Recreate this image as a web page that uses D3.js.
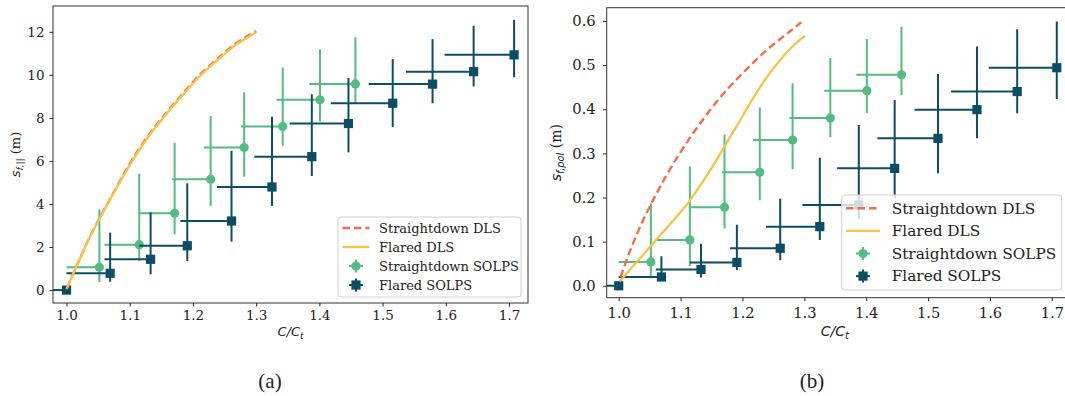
<!DOCTYPE html>
<meta charset="utf-8">
<script src="https://d3js.org/d3.v7.min.js"></script>
<style>
  body { margin: 0; background: #fff; }
  text { font-family: "DejaVu Serif", serif; fill: #222; }
  .math { font-family: "DejaVu Sans", sans-serif; font-style: italic; }
</style>
<div id="my_dataviz"></div>
<script>
// ---- data ----
// C/Ct of the SOLPS runs
var xFlared = [1.000, 1.069, 1.133, 1.191, 1.261, 1.325, 1.388, 1.446, 1.516, 1.579, 1.644, 1.708];
var xFlaredLow = [0.960, 1.000, 1.060, 1.115, 1.180, 1.238, 1.297, 1.353, 1.418, 1.478, 1.537, 1.598];
var xStraight = [1.052, 1.115, 1.171, 1.228, 1.281, 1.342, 1.401, 1.457];
var xStraightLow = [1.000, 1.060, 1.115, 1.167, 1.217, 1.276, 1.332, 1.384];

// (a) s_f,|| (m)
var parFlared = [0, 0.78, 1.43, 2.06, 3.21, 4.79, 6.20, 7.74, 8.68, 9.57, 10.15, 10.93];
var parFlaredLow = [0, 0.39, 0.73, 1.35, 2.25, 3.91, 5.30, 6.40, 7.57, 8.68, 9.46, 9.89];
var parFlaredHigh = [0, 2.67, 3.61, 4.96, 6.47, 8.06, 9.10, 9.85, 10.73, 11.66, 12.28, 12.56];
var parStraight = [1.06, 2.11, 3.57, 5.15, 6.62, 7.60, 8.84, 9.58];
var parStraightLow = [0.38, 1.35, 2.59, 3.91, 5.27, 6.71, 7.83, 8.65];
var parStraightHigh = [3.75, 5.40, 6.85, 8.09, 9.19, 10.34, 11.19, 11.75];

var dlsParFlaredX = [1.000, 1.010, 1.020, 1.035, 1.052, 1.070, 1.090, 1.106, 1.130, 1.159, 1.185, 1.211, 1.240, 1.264, 1.285, 1.301];
var dlsParFlaredY = [0.05, 0.72, 1.38, 2.35, 3.30, 4.28, 5.30, 6.10, 7.15, 8.22, 9.10, 9.95, 10.72, 11.32, 11.72, 12.00];
var dlsParStraightX = [1.001, 1.011, 1.021, 1.036, 1.053, 1.071, 1.090, 1.106, 1.130, 1.159, 1.185, 1.211, 1.240, 1.264, 1.285, 1.300];
var dlsParStraightY = [0.10, 0.80, 1.45, 2.43, 3.38, 4.35, 5.36, 6.16, 7.21, 8.28, 9.16, 10.01, 10.78, 11.38, 11.78, 12.04];

// (b) s_f,pol (m)
var polFlared = [0, 0.020, 0.037, 0.053, 0.085, 0.134, 0.183, 0.266, 0.334, 0.399, 0.440, 0.494];
var polFlaredLow = [0, 0.013, 0.019, 0.036, 0.058, 0.104, 0.151, 0.198, 0.255, 0.334, 0.391, 0.423];
var polFlaredHigh = [0, 0.067, 0.095, 0.138, 0.197, 0.290, 0.364, 0.421, 0.480, 0.542, 0.581, 0.599];
var polStraight = [0.054, 0.104, 0.178, 0.257, 0.330, 0.380, 0.442, 0.478];
var polStraightLow = [0.020, 0.045, 0.130, 0.194, 0.264, 0.337, 0.391, 0.432];
var polStraightHigh = [0.187, 0.271, 0.342, 0.404, 0.459, 0.516, 0.559, 0.587];

var dlsPolFlaredX = [1.002, 1.025, 1.050, 1.075, 1.100, 1.115, 1.135, 1.155, 1.172, 1.195, 1.215, 1.240, 1.260, 1.280, 1.301];
var dlsPolFlaredY = [0.010, 0.047, 0.087, 0.127, 0.167, 0.193, 0.234, 0.278, 0.318, 0.372, 0.420, 0.474, 0.510, 0.541, 0.566];
var dlsPolStraightX = [1.003, 1.020, 1.040, 1.060, 1.080, 1.100, 1.120, 1.140, 1.160, 1.180, 1.200, 1.220, 1.240, 1.260, 1.280, 1.295];
var dlsPolStraightY = [0.020, 0.085, 0.150, 0.206, 0.257, 0.303, 0.345, 0.384, 0.420, 0.452, 0.481, 0.509, 0.535, 0.558, 0.580, 0.597];

var xTicks = [1.0, 1.1, 1.2, 1.3, 1.4, 1.5, 1.6, 1.7];
var parTicks = [0, 2, 4, 6, 8, 10, 12];
var polTicks = [0.0, 0.1, 0.2, 0.3, 0.4, 0.5, 0.6];
var legendLabels = ["Straightdown DLS", "Flared DLS", "Straightdown SOLPS", "Flared SOLPS"];
var captions = ["(a)", "(b)"];

// colours
var cDash = "#f76d47", cFlaredDLS = "#fbc143", cGreen = "#53bc82", cNavy = "#0c4d66";

var svg = d3.select("#my_dataviz").append("svg")
  .attr("width", 1065).attr("height", 396)
  .style("background", "#fff");

function drawPanel(p) {
  var g = svg.append("g");
  var x = d3.scaleLinear().domain(p.xDomain).range([p.left, p.right]);
  var y = d3.scaleLinear().domain(p.yDomain).range([p.bottom, p.top]);

  g.append("clipPath").attr("id", p.id)
    .append("rect").attr("x", p.left).attr("y", p.top)
    .attr("width", p.right - p.left).attr("height", p.bottom - p.top);
  var plot = g.append("g").attr("clip-path", "url(#" + p.id + ")");

  // error bars: x error only to the left, asymmetric y error
  function errorbars(xs, xlow, ys, ylow, yhigh, color, marker) {
    var grp = plot.append("g");
    xs.forEach(function(d, i) {
      grp.append("line").attr("x1", x(xlow[i])).attr("x2", x(d))
        .attr("y1", y(ys[i])).attr("y2", y(ys[i]))
        .attr("stroke", color).attr("stroke-width", 2);
      grp.append("line").attr("x1", x(d)).attr("x2", x(d))
        .attr("y1", y(ylow[i])).attr("y2", y(yhigh[i]))
        .attr("stroke", color).attr("stroke-width", 2);
    });
    xs.forEach(function(d, i) {
      if (marker == "circle")
        grp.append("circle").attr("cx", x(d)).attr("cy", y(ys[i])).attr("r", 4.6).attr("fill", color);
      else
        grp.append("rect").attr("x", x(d) - 4.6).attr("y", y(ys[i]) - 4.6)
          .attr("width", 9.2).attr("height", 9.2).attr("fill", color);
    });
  }
  errorbars(xStraight, xStraightLow, p.straight, p.straightLow, p.straightHigh, cGreen, "circle");
  errorbars(xFlared, xFlaredLow, p.flared, p.flaredLow, p.flaredHigh, cNavy, "square");

  var line = d3.line().x(function(d) { return x(d[0]); }).y(function(d) { return y(d[1]); }).curve(d3.curveCatmullRom);
  plot.append("path").datum(d3.zip(p.dlsStraightX, p.dlsStraightY)).attr("d", line)
    .attr("fill", "none").attr("stroke", cDash).attr("stroke-width", 2.4)
    .attr("stroke-dasharray", "7.5,4");
  plot.append("path").datum(d3.zip(p.dlsFlaredX, p.dlsFlaredY)).attr("d", line)
    .attr("fill", "none").attr("stroke", cFlaredDLS).attr("stroke-width", 2.3);

  // axes
  var ax = g.append("g").attr("transform", "translate(0," + p.bottom + ")")
    .call(d3.axisBottom(x).tickValues(xTicks).tickFormat(d3.format(".1f"))
      .tickSize(3.5).tickSizeOuter(0).tickPadding(p.pad));
  var ay = g.append("g").attr("transform", "translate(" + p.left + ",0)")
    .call(d3.axisLeft(y).tickValues(p.yTicks).tickFormat(p.yFormat)
      .tickSize(3.5).tickSizeOuter(0).tickPadding(p.pad + 1.5));
  [ax, ay].forEach(function(a) {
    a.select(".domain").remove();
    a.selectAll("text").style("font-family", "DejaVu Serif").style("font-size", p.tickFont + "px").attr("fill", "#222");
    a.selectAll("line").attr("stroke", "#222");
  });
  g.append("rect").attr("x", p.left).attr("y", p.top)
    .attr("width", p.right - p.left).attr("height", p.bottom - p.top)
    .attr("fill", "none").attr("stroke", "#333").attr("stroke-width", 1);

  // axis labels
  var xl = g.append("text").attr("x", (p.left + p.xLabelRight) / 2).attr("y", p.xLabelY)
    .attr("text-anchor", "middle").attr("class", "math").style("font-size", p.labelFont + "px");
  xl.append("tspan").text("C/C");
  xl.append("tspan").attr("dy", 3).style("font-size", (p.labelFont * 0.7) + "px").text("t");

  var yl = g.append("text").attr("transform", "translate(" + p.yLabelX + "," + ((p.top + p.bottom) / 2) + ") rotate(-90)")
    .attr("text-anchor", "middle").style("font-size", p.labelFont + "px");
  yl.append("tspan").attr("class", "math").text("s");
  yl.append("tspan").attr("class", "math").attr("dy", 3).style("font-size", (p.labelFont * 0.7) + "px").text(p.ySub);
  yl.append("tspan").attr("dy", -3).text(" (m)");

  // legend
  var L = p.legend;
  var lg = g.append("g");
  lg.append("rect").attr("x", L.x).attr("y", L.y).attr("width", L.w).attr("height", L.h)
    .attr("rx", 3).attr("fill", "#fff").attr("fill-opacity", 0.8)
    .attr("stroke", "#d0d0d0").attr("stroke-width", 1);
  legendLabels.forEach(function(t, i) {
    var cy = L.y + L.first + i * L.step;
    var hx = L.x + L.hx;
    if (i == 0)
      lg.append("line").attr("x1", hx).attr("x2", hx + L.hw).attr("y1", cy).attr("y2", cy)
        .attr("stroke", cDash).attr("stroke-width", 2.4).attr("stroke-dasharray", "7.5,4");
    else if (i == 1)
      lg.append("line").attr("x1", hx).attr("x2", hx + L.hw).attr("y1", cy).attr("y2", cy)
        .attr("stroke", cFlaredDLS).attr("stroke-width", 2.3);
    else {
      var c = i == 2 ? cGreen : cNavy, mx = hx + L.hw / 2;
      lg.append("line").attr("x1", mx - 7).attr("x2", mx + 7).attr("y1", cy).attr("y2", cy).attr("stroke", c).attr("stroke-width", 2);
      lg.append("line").attr("x1", mx).attr("x2", mx).attr("y1", cy - 6.5).attr("y2", cy + 6.5).attr("stroke", c).attr("stroke-width", 2);
      if (i == 2) lg.append("circle").attr("cx", mx).attr("cy", cy).attr("r", 4.6).attr("fill", c);
      else lg.append("rect").attr("x", mx - 4.6).attr("y", cy - 4.6).attr("width", 9.2).attr("height", 9.2).attr("fill", c);
    }
    lg.append("text").attr("x", L.x + L.tx).attr("y", cy).attr("dy", "0.35em")
      .style("font-size", L.font + "px").text(t);
  });

  svg.append("text").attr("x", p.capX).attr("y", 388).attr("text-anchor", "middle")
    .style("font-family", "Liberation Serif").style("font-size", "21px").text(p.caption);
}

drawPanel({
  id: "clipA", left: 53, right: 528, top: 6, bottom: 303,
  xDomain: [0.9786, 1.730], yDomain: [-0.6, 13.2],
  yTicks: parTicks, yFormat: d3.format("d"), pad: 3.5, tickFont: 13.5, labelFont: 13,
  straight: parStraight, straightLow: parStraightLow, straightHigh: parStraightHigh,
  flared: parFlared, flaredLow: parFlaredLow, flaredHigh: parFlaredHigh,
  dlsFlaredX: dlsParFlaredX, dlsFlaredY: dlsParFlaredY,
  dlsStraightX: dlsParStraightX, dlsStraightY: dlsParStraightY,
  xLabelY: 336, xLabelRight: 528, yLabelX: 20, ySub: "f,||",
  legend: {x: 338, y: 217, w: 183, h: 80, first: 11, step: 19, hx: 4.5, hw: 27, tx: 41, font: 13},
  capX: 270, caption: captions[0]
});

drawPanel({
  id: "clipB", left: 606.7, right: 1067, top: 7.7, bottom: 297.7,
  xDomain: [0.9806, 1.7245], yDomain: [-0.027, 0.630],
  yTicks: polTicks, yFormat: d3.format(".1f"), pad: 6, tickFont: 14.7, labelFont: 14,
  straight: polStraight, straightLow: polStraightLow, straightHigh: polStraightHigh,
  flared: polFlared, flaredLow: polFlaredLow, flaredHigh: polFlaredHigh,
  dlsFlaredX: dlsPolFlaredX, dlsFlaredY: dlsPolFlaredY,
  dlsStraightX: dlsPolStraightX, dlsStraightY: dlsPolStraightY,
  xLabelY: 336, xLabelRight: 1063, yLabelX: 561, ySub: "f,pol",
  legend: {x: 841.7, y: 195, w: 220, h: 95, first: 13.3, step: 22.6, hx: 4.3, hw: 34, tx: 50, font: 15.3},
  capX: 812, caption: captions[1]
});
</script>
